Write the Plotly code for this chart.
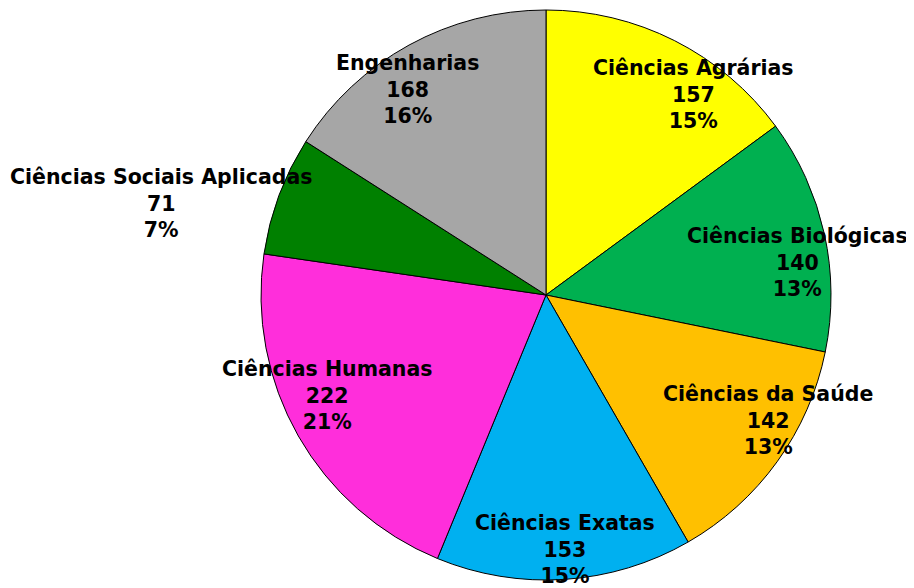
import math
import plotly.graph_objects as go

categories = ["Ciências Agrárias", "Ciências Biológicas", "Ciências da Saúde",
              "Ciências Exatas", "Ciências Humanas", "Ciências Sociais Aplicadas",
              "Engenharias"]
values = [157, 140, 142, 153, 222, 71, 168]
colors = ["#FFFF00", "#00B050", "#FFC000", "#00B0F0", "#FF2EDB", "#008000", "#A6A6A6"]

# label placement: (radius fraction, angle offset in degrees from slice mid-angle)
label_place = [(0.873, 9.5), (0.89, 5.0), (0.895, -6.3), (0.894, -0.5),
               (0.845, 5.0), (1.39, -7.1), (0.87, -5.3)]

OFF = 8  # page body margin
W, H = 914 - OFF, 588 - OFF
cx, cy, R = 546 - OFF, 295 - OFF, 285

fig = go.Figure(go.Pie(
    labels=categories, values=values, sort=False, direction="clockwise",
    rotation=0, textinfo="none", hoverinfo="label+value+percent",
    marker=dict(colors=colors, line=dict(color="#000000", width=1)),
    domain=dict(x=[(cx - R) / W, (cx + R) / W], y=[1 - (cy + R) / H, 1 - (cy - R) / H]),
    showlegend=False,
))

total = sum(values)
cum = 0
annotations = []
for cat, v, (f, dth) in zip(categories, values, label_place):
    mid = (cum + v / 2) / total * 360
    cum += v
    th = math.radians(mid + dth)
    px = cx + R * f * math.sin(th)
    py = cy - R * f * math.cos(th)
    pct = round(v / total * 100)
    annotations.append(dict(
        x=px / W, y=1 - py / H, xref="paper", yref="paper",
        text=f"<b>{cat}<br>{v}<br>{pct}%</b>", showarrow=False,
        xanchor="center", yanchor="middle", align="center",
        font=dict(family="DejaVu Sans", size=20.5, color="#000000"),
    ))

fig.update_layout(
    width=W, height=H, margin=dict(l=0, r=0, t=0, b=0),
    paper_bgcolor="white", plot_bgcolor="white",
    annotations=annotations,
)
fig.write_html("out.html")
